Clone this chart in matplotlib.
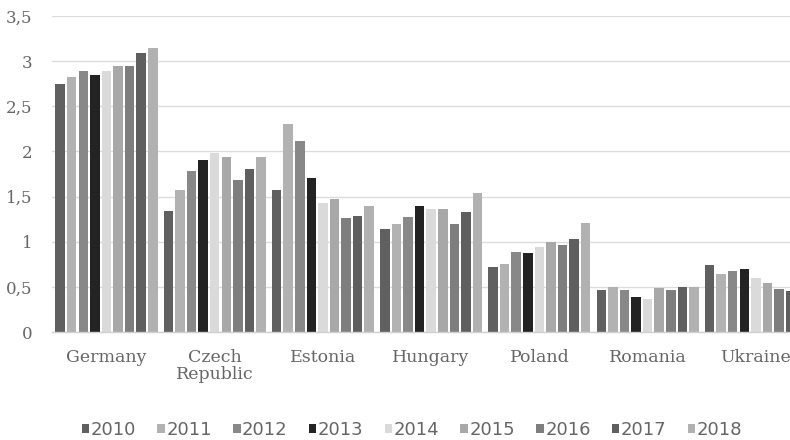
import matplotlib
matplotlib.use("Agg")
import matplotlib.pyplot as plt
import numpy as np

countries = ["Germany", "Czech\nRepublic", "Estonia", "Hungary", "Poland", "Romania", "Ukraine"]
years = ["2010", "2011", "2012", "2013", "2014", "2015", "2016", "2017", "2018"]

germany = [2.75, 2.82, 2.89, 2.85, 2.89, 2.95, 2.95, 3.09, 3.15]
czech = [1.34, 1.57, 1.78, 1.91, 1.98, 1.94, 1.68, 1.80, 1.94]
estonia = [1.57, 2.30, 2.12, 1.71, 1.43, 1.47, 1.26, 1.28, 1.40]
hungary = [1.14, 1.20, 1.27, 1.40, 1.36, 1.36, 1.20, 1.33, 1.54]
poland = [0.72, 0.75, 0.89, 0.87, 0.94, 1.00, 0.96, 1.03, 1.21]
romania = [0.46, 0.50, 0.47, 0.39, 0.37, 0.49, 0.47, 0.50, 0.50]
ukraine = [0.74, 0.64, 0.675, 0.70, 0.60, 0.54, 0.48, 0.45, 0.44]

yticks = [0, 0.5, 1, 1.5, 2, 2.5, 3, 3.5]
ytick_labels = ["0", "0,5", "1", "1,5", "2", "2,5", "3", "3,5"]

colors = ["#606060", "#b2b2b2", "#888888", "#232323", "#dadada",
          "#a8a8a8", "#7e7e7e", "#5f5f5f", "#b1b1b1"]

data = np.array([germany, czech, estonia, hungary, poland, romania, ukraine])

W, H = 790, 440
fig = plt.figure(figsize=(W / 100, H / 100), dpi=100)
ax = fig.add_axes([52 / W, 108 / H, 758 / W, 316 / H])

x = np.arange(len(countries))
pitch = 0.107
bw = 0.088
for i, yr in enumerate(years):
    ax.bar(x + (i - 4) * pitch, data[:, i], width=bw, color=colors[i],
           label=yr, zorder=3, linewidth=0)

ax.set_xlim(-0.503, 6.5)
ax.set_ylim(0, 3.5)
ax.set_yticks(yticks)
ax.set_yticklabels(ytick_labels)
ax.set_xticks(x)
ax.set_xticklabels(countries)
ax.grid(axis="y", color="#dcdcdc", linewidth=1.0, zorder=0)
for s in ["top", "right", "left"]:
    ax.spines[s].set_visible(False)
ax.spines["bottom"].set_color("#d0d0d0")
ax.spines["bottom"].set_linewidth(1.0)
ax.spines["bottom"].set_zorder(4)
ax.tick_params(axis="both", length=0, colors="#666666")
ax.tick_params(axis="y", pad=14, labelsize=12)
ax.tick_params(axis="x", pad=12, labelsize=12.5)
for lab in ax.get_xticklabels() + ax.get_yticklabels():
    lab.set_fontfamily("DejaVu Serif")
    lab.set_color("#666666")
for lab in ax.get_xticklabels():
    lab.set_linespacing(1.05)

leg = fig.legend(loc="center", bbox_to_anchor=(412 / W, 1 - 430 / H), ncol=9,
                 frameon=False, handlelength=0.42, handleheight=0.42,
                 handletextpad=0.08, columnspacing=1.17,
                 prop={"family": "DejaVu Sans", "size": 13})
for t in leg.get_texts():
    t.set_color("#666666")

fig.savefig("out.png", dpi=100)
